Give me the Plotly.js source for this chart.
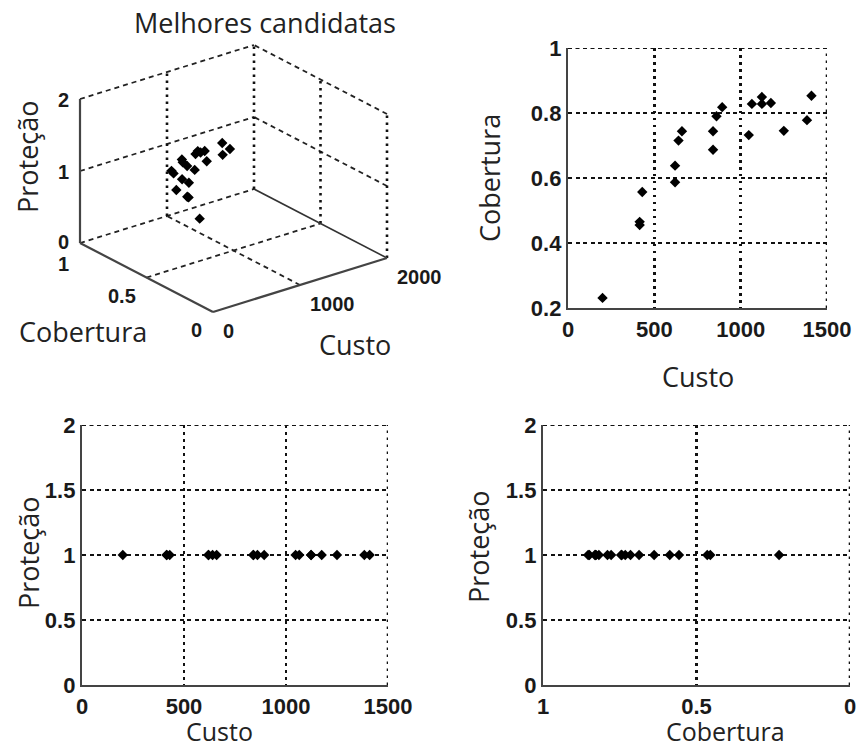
<!DOCTYPE html>
<html>
<head>
<meta charset="utf-8">
<script src="https://cdn.plot.ly/plotly-3.0.1.min.js"></script>
<style>html,body{margin:0;padding:0;background:#fff}#chart{width:856px;height:748px}</style>
</head>
<body>
<div id="chart"></div>
<script>
// Data (Melhores candidatas)
const custo = [200, 415, 415, 430, 620, 620, 640, 660, 840, 840, 860, 893, 1047, 1065, 1123, 1123, 1175, 1250, 1384, 1410];
const cobertura = [0.231, 0.465, 0.455, 0.557, 0.638, 0.587, 0.715, 0.744, 0.744, 0.687, 0.790, 0.818, 0.732, 0.828, 0.849, 0.828, 0.831, 0.745, 0.778, 0.853];
const protecao = [1, 1, 1, 1, 1, 1, 1, 1, 1, 1, 1, 1, 1, 1, 1, 1, 1, 1, 1, 1];

const custoTicks = [0, 500, 1000, 1500];
const coberturaTicks = [0.2, 0.4, 0.6, 0.8, 1];
const protecaoTicks = [0, 0.5, 1, 1.5, 2];
const coberturaRevTicks = [1, 0.5, 0];
const custo3dTicks = [0, 1000, 2000];
const cobertura3dTicks = [0, 0.5, 1];
const protecao3dTicks = [0, 1, 2];

const titleText = 'Melhores candidatas';
const lblCusto = 'Custo', lblCob = 'Cobertura', lblProt = 'Proteção';

const W = 856, H = 748;
const px = v => v / W;
const py = v => 1 - v / H;

const tickFont = {family: '"Liberation Sans", Arial, sans-serif', size: 22, color: '#1a1a1a', weight: 'bold'};
const labelFont = {family: '"Open Sans", "Noto Sans", sans-serif', size: 27, color: '#222'};
const mk = {symbol: 'diamond', size: 8, color: '#000'};

// ---------- 3D panel: orthographic view (az -37.5°) drawn on a hidden 2D axis pair ----------
const VIEW = {ox: 213, oy: 312, ex: [174, -54], ey: [-133, -69], ez: [0, -144]};
const R3 = {x: [0, 2000], y: [0, 1], z: [0, 2]};
function proj(c, cb, p) {
  const u = (c - R3.x[0]) / (R3.x[1] - R3.x[0]);
  const v = (cb - R3.y[0]) / (R3.y[1] - R3.y[0]);
  const w = (p - R3.z[0]) / (R3.z[1] - R3.z[0]);
  return [VIEW.ox + u * VIEW.ex[0] + v * VIEW.ey[0] + w * VIEW.ez[0],
          VIEW.oy + u * VIEW.ex[1] + v * VIEW.ey[1] + w * VIEW.ez[1]];
}
function segs(list) {
  const xs = [], ys = [];
  list.forEach(([a, b]) => {
    const p = proj(...a), q = proj(...b);
    xs.push(p[0], q[0], null); ys.push(p[1], q[1], null);
  });
  return {x: xs, y: ys};
}
const [x0, x1] = R3.x, [y0, y1] = R3.y, [z0, z1] = R3.z;
const slanted = [];
protecao3dTicks.filter(z => z > z0).forEach(z => {
  slanted.push([[x0, y1, z], [x1, y1, z]]);
  slanted.push([[x1, y0, z], [x1, y1, z]]);
});
slanted.push([[x0, y1, z0], [x1, y1, z0]]);
custo3dTicks.filter(c => c > x0 && c < x1).forEach(c => slanted.push([[c, y0, z0], [c, y1, z0]]));
cobertura3dTicks.filter(c => c > y0 && c < y1).forEach(c => slanted.push([[x0, c, z0], [x1, c, z0]]));
const vertical = [];
custo3dTicks.filter(c => c > x0).forEach(c => vertical.push([[c, y1, z0], [c, y1, z1]]));
cobertura3dTicks.filter(c => c < y1).forEach(c => vertical.push([[x1, c, z0], [x1, c, z1]]));
const axesSolid = [
  [[x0, y1, z0], [x0, y1, z1]],
  [[x0, y0, z0], [x1, y0, z0]],
  [[x0, y0, z0], [x0, y1, z0]]
];
const edgeSolid = [[[x1, y0, z0], [x1, y1, z0]]];

const pts3d = custo.map((c, i) => proj(c, cobertura[i], protecao[i]));

const traces = [
  Object.assign({type: 'scatter', mode: 'lines', xaxis: 'x4', yaxis: 'y4', hoverinfo: 'none',
    line: {color: '#222', width: 1.8, dash: '5px,4px'}}, segs(slanted)),
  Object.assign({type: 'scatter', mode: 'lines', xaxis: 'x4', yaxis: 'y4', hoverinfo: 'none',
    line: {color: '#111', width: 2.6, dash: '2.5px,4.5px'}}, segs(vertical)),
  Object.assign({type: 'scatter', mode: 'lines', xaxis: 'x4', yaxis: 'y4', hoverinfo: 'none',
    line: {color: '#333', width: 1.6}}, segs(edgeSolid)),
  Object.assign({type: 'scatter', mode: 'lines', xaxis: 'x4', yaxis: 'y4', hoverinfo: 'none',
    line: {color: '#444', width: 2.2}}, segs(axesSolid)),
  {type: 'scatter', mode: 'markers', xaxis: 'x4', yaxis: 'y4', hoverinfo: 'none',
   x: pts3d.map(p => p[0]), y: pts3d.map(p => p[1]), marker: {symbol: 'diamond', size: 8, color: '#000'}},
  {type: 'scatter', mode: 'markers', x: custo, y: cobertura, xaxis: 'x', yaxis: 'y', marker: mk, hoverinfo: 'none'},
  {type: 'scatter', mode: 'markers', x: custo, y: protecao, xaxis: 'x2', yaxis: 'y2', marker: mk, hoverinfo: 'none'},
  {type: 'scatter', mode: 'markers', x: cobertura, y: protecao, xaxis: 'x3', yaxis: 'y3', marker: mk, hoverinfo: 'none'}
];

const vDash = '2.5px,4.5px', hDash = '4px,3.5px';
function axX(extra) {
  return Object.assign({
    showgrid: true, gridcolor: '#111', gridwidth: 2.6, griddash: vDash,
    showline: true, linecolor: '#444', linewidth: 2.2, mirror: false,
    zeroline: false, ticks: '', tickfont: tickFont, fixedrange: true, ticklabeloverflow: 'allow'
  }, extra);
}
function axY(extra) {
  return Object.assign({
    showgrid: true, gridcolor: '#111', gridwidth: 2, griddash: hDash,
    showline: true, linecolor: '#444', linewidth: 2.2, mirror: false,
    zeroline: false, ticks: '', tickfont: tickFont, fixedrange: true, ticklabeloverflow: 'allow'
  }, extra);
}

const vLine = {color: '#111', width: 2.6, dash: vDash};
const hLine = {color: '#111', width: 2, dash: hDash};
const shapes = [
  {type: 'line', xref: 'x', yref: 'y domain', x0: 1500, x1: 1500, y0: 0, y1: 1, line: vLine},
  {type: 'line', xref: 'x domain', yref: 'y', x0: 0, x1: 1, y0: 1, y1: 1, line: hLine},
  {type: 'line', xref: 'x2', yref: 'y2 domain', x0: 1500, x1: 1500, y0: 0, y1: 1, line: vLine},
  {type: 'line', xref: 'x2 domain', yref: 'y2', x0: 0, x1: 1, y0: 2, y1: 2, line: hLine},
  {type: 'line', xref: 'x3', yref: 'y3 domain', x0: 0, x1: 0, y0: 0, y1: 1, line: vLine},
  {type: 'line', xref: 'x3 domain', yref: 'y3', x0: 0, x1: 1, y0: 2, y1: 2, line: hLine}
];

const ann = (text, x, y, extra) => Object.assign({text, x: px(x), y: py(y), xref: 'paper', yref: 'paper',
  showarrow: false, font: labelFont, xanchor: 'center', yanchor: 'middle'}, extra || {});
const bottomFont = Object.assign({}, labelFont, {size: 25});

const annotations = [
  ann(titleText, 265, 22),
  ann(lblProt, 27, 157, {textangle: -90}),
  ann(lblCob, 83, 331),
  ann(lblCusto, 355, 344),
  ann(lblCob, 489, 178, {textangle: -90}),
  ann(lblCusto, 698, 376),
  ann(lblProt, 28, 553, {textangle: -90}),
  ann(lblCusto, 220, 731, {font: bottomFont}),
  ann(lblProt, 478, 547, {textangle: -90}),
  ann(lblCob, 725, 731, {font: bottomFont})
];
const t3font = {family: tickFont.family, size: 20, color: '#1a1a1a', weight: 'bold'};
const t3 = (text, p, dx, dy, xa) => ({text, x: p[0] + dx, y: p[1] + dy, xref: 'x4', yref: 'y4', showarrow: false,
  font: t3font, xanchor: xa, yanchor: 'middle'});
protecao3dTicks.forEach(z => annotations.push(t3(String(z), proj(x0, y1, z), -9, z === z0 ? -1 : 1, 'right')));
cobertura3dTicks.forEach(c => annotations.push(t3(String(c), proj(x0, c, z0), -9, c === y1 ? 21 : 18, 'right')));
custo3dTicks.forEach(c => annotations.push(t3(String(c), proj(c, y0, z0), 8, 19, 'left')));

const P4 = {w: 445, h: 360};
const layout = {
  width: W, height: H, margin: {l: 0, r: 0, t: 0, b: 0},
  paper_bgcolor: '#fff', plot_bgcolor: 'rgba(0,0,0,0)', showlegend: false,
  xaxis: axX({domain: [px(568), px(827)], range: [0, 1500], tickvals: custoTicks, ticktext: custoTicks.map(String), anchor: 'y'}),
  yaxis: axY({domain: [py(308), py(48)], range: [0.2, 1], tickvals: coberturaTicks, ticktext: coberturaTicks.map(String), anchor: 'x'}),
  xaxis2: axX({domain: [px(82), px(388)], range: [0, 1500], tickvals: custoTicks, ticktext: custoTicks.map(String), anchor: 'y2'}),
  yaxis2: axY({domain: [py(685), py(425)], range: [0, 2], tickvals: protecaoTicks, ticktext: protecaoTicks.map(String), anchor: 'x2'}),
  xaxis3: axX({domain: [px(543), px(850)], range: [1, 0], tickvals: coberturaRevTicks, ticktext: coberturaRevTicks.map(String), anchor: 'y3'}),
  yaxis3: axY({domain: [py(685), py(425)], range: [0, 2], tickvals: protecaoTicks, ticktext: protecaoTicks.map(String), anchor: 'x3'}),
  xaxis4: {domain: [0, px(P4.w)], range: [0, P4.w], visible: false, fixedrange: true, anchor: 'y4'},
  yaxis4: {domain: [py(P4.h), 1], range: [P4.h, 0], visible: false, fixedrange: true, anchor: 'x4'},
  shapes, annotations
};

Plotly.newPlot('chart', traces, layout, {displayModeBar: false, staticPlot: true});
</script>
</body>
</html>
